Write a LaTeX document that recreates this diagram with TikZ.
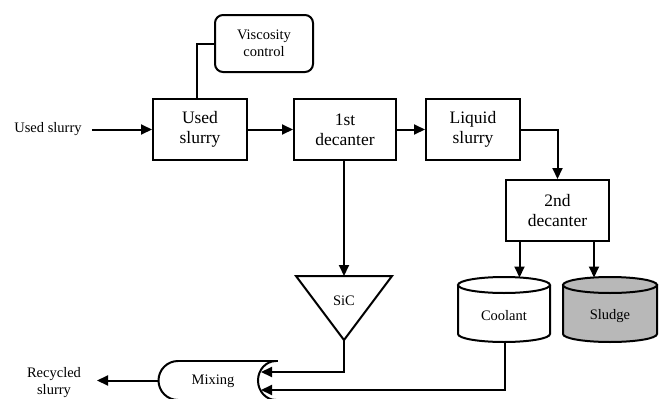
\documentclass[tikz,border=0pt]{standalone}
\usepackage{fontspec}
\setmainfont{Liberation Serif}
\usetikzlibrary{arrows.meta,calc}
\begin{document}
\begin{tikzpicture}[x=1pt,y=-1pt,
  line width=2pt,
  big/.style={font=\fontsize{17.5}{20}\selectfont, align=center},
  small/.style={font=\fontsize{14.5}{17}\selectfont, align=center},
  box/.style={draw, big, minimum height=61pt, inner sep=0pt},
  arr/.style={-{Triangle[length=11pt,width=10pt]}},
  ]
\useasboundingbox (0,0) rectangle (662,399);
% nodes
\node[small] (lbl) at (48,129.5) {Used slurry};
\node[box, minimum width=94pt] (used) at (200,129.5) {Used\\slurry};
\node[box, minimum width=102pt] (dec1) at (345,129.5) {1st\\decanter};
\node[box, minimum width=94pt] (liq) at (473,129.5) {Liquid\\slurry};
\node[box, minimum width=103pt] (dec2) at (557.5,210.5) {2nd\\decanter};
\node[draw, rounded corners=8pt, small, minimum width=98pt, minimum height=57pt, inner sep=0pt] (visc) at (264,43.5) {Viscosity\\control};
% SiC triangle
\draw (296,276) coordinate (sictl) -- (392,276) coordinate (sictr) -- (344,340) coordinate (sicapex) -- cycle;
\node[small] (sic) at (344,301) {SiC};
\coordinate (sictop) at (344,276);
% cylinders
\draw[fill=white] (458,285) -- (458,334) arc[start angle=180,end angle=0,x radius=46,y radius=8] -- (550,285);
\draw[fill=white] (504,285) ellipse[x radius=46,y radius=8];
\node[small] (cool) at (504,316) {Coolant};
\draw[fill=black!28] (563,285) -- (563,334) arc[start angle=180,end angle=0,x radius=47,y radius=8] -- (657,285) -- cycle;
\draw[fill=black!28] (610,285) ellipse[x radius=47,y radius=8];
\node[small] (sludge) at (610,316) {Sludge};
\coordinate (cooltop) at (519.5,277.5);
\coordinate (sludgetop) at (594,277.5);
\coordinate (coolbot) at (505,342);
% mixing shape
\draw (178,361) -- (278,361);
\draw (178,361) arc[start angle=270,end angle=90,radius=19.5];
\draw (276,361) arc[start angle=270,end angle=90,x radius=18,y radius=19.5];
\draw (178,400) -- (276,400);
\node[small] (mix) at (213,381) {Mixing};
\coordinate (mixwest) at (158.5,380.5);
\coordinate (mixin1) at (261,372);
\coordinate (mixin2) at (261,390);
\node[small] (rec) at (54,383) {Recycled\\slurry};
\coordinate (recend) at (97,380.5);
% connectors
\draw[arr] ([xshift=6pt]lbl.east) -- (used.west);
\draw[arr] (used.east) -- (dec1.west);
\draw[arr] (dec1.east) -- (liq.west);
\draw[arr] (liq.east) -| (dec2.north);
\draw ([xshift=-3pt]used.north) |- (visc.west);
\draw[arr] (dec1.south -| sictop) -- (sictop);
\draw[arr] (dec2.south -| cooltop) -- (cooltop);
\draw[arr] (dec2.south -| sludgetop) -- (sludgetop);
\draw[arr] (sicapex) |- (mixin1);
\draw[arr] (coolbot) |- (mixin2);
\draw[arr] (mixwest) -- (recend);
\end{tikzpicture}
\end{document}
